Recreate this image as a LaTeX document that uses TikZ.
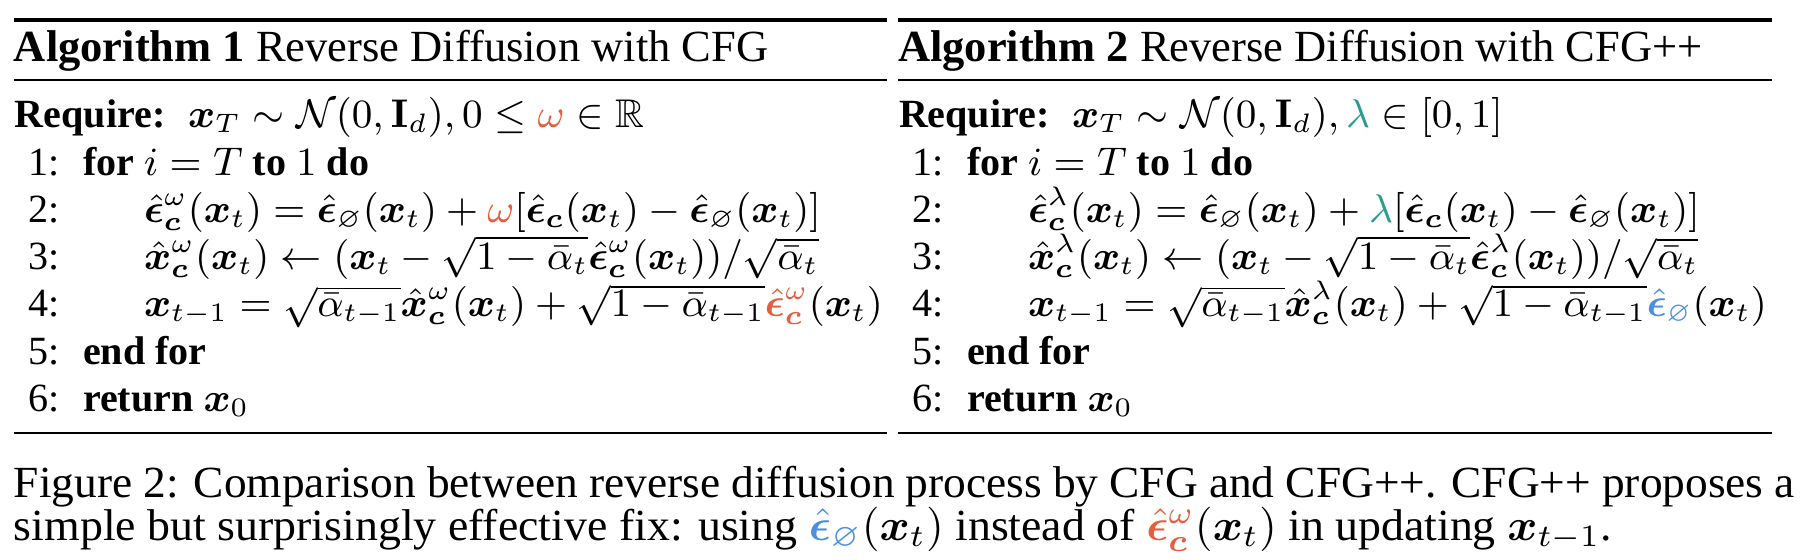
\documentclass[tikz,border=0pt]{standalone}
\usepackage{amsmath,amssymb,bm,graphicx}
\usepackage[no-math]{fontspec}
\setmainfont{Liberation Serif}
\definecolor{cfgorange}{HTML}{E2603F}
\definecolor{cfgteal}{HTML}{2A9D8F}
\definecolor{cfgblue}{HTML}{4A90E2}
\newcommand{\ehat}{\hat{\bm{\epsilon}}}
\newcommand{\bxv}{\bm{x}}
\newcommand{\bcv}{\bm{c}}
\newcommand{\capx}[2]{\scalebox{#1}[1]{#2}}
\newlength\pxu \setlength\pxu{0.22472pt}
\begin{document}
\begin{tikzpicture}[x=\pxu,y=-\pxu,
  txt/.style={anchor=base west, inner sep=0pt, outer sep=0pt},
  body/.style={txt, font=\fontsize{9}{11}\selectfont},
  num/.style={anchor=base east, inner sep=0pt, outer sep=0pt, font=\fontsize{9}{11}\selectfont},
  heavyrule/.style={line width=0.8pt},
  lightrule/.style={line width=0.4pt}]
\useasboundingbox (0,0) rectangle (1808,560);

% ---------- Algorithm 1 ----------
\begin{scope}[name prefix=a-]
\coordinate (t0) at (14,20);  \coordinate (t1) at (887,20);
\coordinate (m0) at (14,80);  \coordinate (m1) at (887,80);
\coordinate (b0) at (14,433); \coordinate (b1) at (887,433);
\draw[heavyrule] (t0) -- (t1);
\draw[lightrule] (m0) -- (m1);
\draw[lightrule] (b0) -- (b1);
\node[txt] (title) at (14,62) {\textbf{Algorithm 1} Reverse Diffusion with CFG};
\node[body] (req) at (15,128) {\textbf{Require:}};
\node[body] (reqm) at (188,128) {$\bxv_T\sim\mathcal{N}(0,\mathbf{I}_d), 0\leq\textcolor{cfgorange}{\omega}\in\mathbb{R}$};
\node[num] (n1) at (60,176) {1:};
\node[body] (l1) at (83,176) {\textbf{for} $i=T$ \textbf{to} $1$ \textbf{do}};
\node[num] (n2) at (60,223) {2:};
\node[body] (l2) at (144,223) {$\ehat^{\omega}_{\bcv}(\bxv_t)=\ehat_{\varnothing}(\bxv_t)+\textcolor{cfgorange}{\omega}[\ehat_{\bcv}(\bxv_t)-\ehat_{\varnothing}(\bxv_t)]$};
\node[num] (n3) at (60,270) {3:};
\node[body] (l3) at (144,270) {$\hat{\bxv}^{\omega}_{\bcv}(\bxv_t)\leftarrow(\bxv_t-\sqrt{1-\bar{\alpha}_t}\ehat^{\omega}_{\bcv}(\bxv_t))/\sqrt{\bar{\alpha}_t}$};
\node[num] (n4) at (60,317) {4:};
\node[body] (l4) at (144,317) {$\bxv_{t-1}=\sqrt{\bar{\alpha}_{t-1}}\hat{\bxv}^{\omega}_{\bcv}(\bxv_t)+\sqrt{1-\bar{\alpha}_{t-1}}\textcolor{cfgorange}{\ehat^{\omega}_{\bcv}}(\bxv_t)$};
\node[num] (n5) at (60,365) {5:};
\node[body] (l5) at (83,365) {\textbf{end for}};
\node[num] (n6) at (60,412) {6:};
\node[body] (l6) at (83,412) {\textbf{return} $\bxv_0$};
\end{scope}

% ---------- Algorithm 2 ----------
\begin{scope}[name prefix=b-, xshift=884*\pxu]
\coordinate (t0) at (14,20);  \coordinate (t1) at (888,20);
\coordinate (m0) at (14,80);  \coordinate (m1) at (888,80);
\coordinate (b0) at (14,433); \coordinate (b1) at (888,433);
\draw[heavyrule] (t0) -- (t1);
\draw[lightrule] (m0) -- (m1);
\draw[lightrule] (b0) -- (b1);
\node[txt] (title) at (14,62) {\textbf{Algorithm 2} Reverse Diffusion with CFG++};
\node[body] (req) at (15,128) {\textbf{Require:}};
\node[body] (reqm) at (188,128) {$\bxv_T\sim\mathcal{N}(0,\mathbf{I}_d), \textcolor{cfgteal}{\lambda}\in[0,1]$};
\node[num] (n1) at (60,176) {1:};
\node[body] (l1) at (83,176) {\textbf{for} $i=T$ \textbf{to} $1$ \textbf{do}};
\node[num] (n2) at (60,223) {2:};
\node[body] (l2) at (144,223) {$\ehat^{\lambda}_{\bcv}(\bxv_t)=\ehat_{\varnothing}(\bxv_t)+\textcolor{cfgteal}{\lambda}[\ehat_{\bcv}(\bxv_t)-\ehat_{\varnothing}(\bxv_t)]$};
\node[num] (n3) at (60,270) {3:};
\node[body] (l3) at (144,270) {$\hat{\bxv}^{\lambda}_{\bcv}(\bxv_t)\leftarrow(\bxv_t-\sqrt{1-\bar{\alpha}_t}\ehat^{\lambda}_{\bcv}(\bxv_t))/\sqrt{\bar{\alpha}_t}$};
\node[num] (n4) at (60,317) {4:};
\node[body] (l4) at (144,317) {$\bxv_{t-1}=\sqrt{\bar{\alpha}_{t-1}}\hat{\bxv}^{\lambda}_{\bcv}(\bxv_t)+\sqrt{1-\bar{\alpha}_{t-1}}\textcolor{cfgblue}{\ehat_{\varnothing}}(\bxv_t)$};
\node[num] (n5) at (60,365) {5:};
\node[body] (l5) at (83,365) {\textbf{end for}};
\node[num] (n6) at (60,412) {6:};
\node[body] (l6) at (83,412) {\textbf{return} $\bxv_0$};
\end{scope}

% ---------- Caption ----------
\node[txt] (cap1) at (14,497) {\capx{1.02}{\makebox[1746\pxu][s]{Figure 2: Comparison between reverse diffusion process by CFG and CFG++. CFG++ proposes a}}};
\node[txt] (cap2) at (14,540) {\capx{1.03}{simple but surprisingly effective fix: using $\textcolor{cfgblue}{\ehat_{\varnothing}}(\bxv_t)$ instead of $\textcolor{cfgorange}{\ehat^{\omega}_{\bcv}}(\bxv_t)$ in updating $\bxv_{t-1}$.}};
\end{tikzpicture}
\end{document}
